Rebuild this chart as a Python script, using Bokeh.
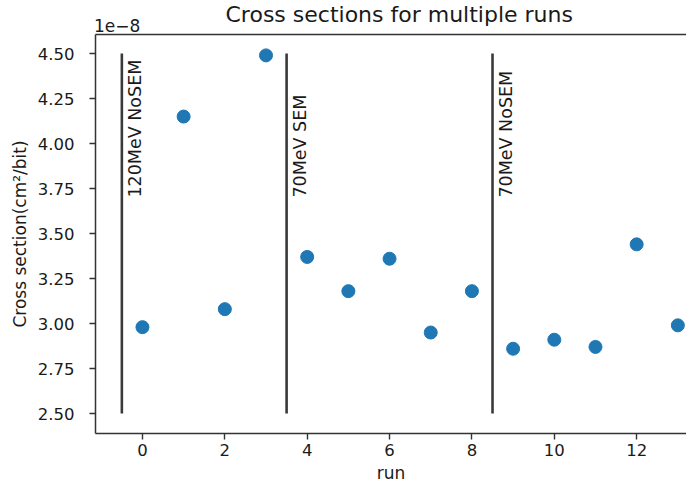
import numpy as np
from bokeh.plotting import figure
from bokeh.models import Range1d, FixedTicker, CustomJSTickFormatter, LinearAxis
from bokeh.embed import file_html
from bokeh.resources import INLINE
from bokeh.core.properties import value

# ---- data ----
runs = list(range(14))
cross_section = [2.98e-8, 4.15e-8, 3.08e-8, 4.49e-8, 3.37e-8, 3.18e-8, 3.36e-8,
                 2.95e-8, 3.18e-8, 2.86e-8, 2.91e-8, 2.87e-8, 3.44e-8, 2.99e-8]
boundaries = [-0.5, 3.5, 8.5]
boundary_labels = ["120MeV NoSEM", "70MeV SEM", "70MeV NoSEM"]
line_bottom = [2.5e-8, 2.5e-8, 2.5e-8]
line_top = [4.5e-8, 4.5e-8, 4.5e-8]
label_y = [3.7e-8, 3.7e-8, 3.7e-8]
x_ticks = [0, 2, 4, 6, 8, 10, 12]
y_ticks = [2.5e-8, 2.75e-8, 3.0e-8, 3.25e-8, 3.5e-8, 3.75e-8, 4.0e-8, 4.25e-8, 4.5e-8]

FONT = "DejaVu Sans"
TXT = "#1a1a1a"
AX = "#333333"

p = figure(width=686, height=485, output_backend="svg", toolbar_location=None,
           x_range=Range1d(-1.14, 13.21), y_range=Range1d(2.389e-8, 4.606e-8),
           min_border_left=95, min_border_right=0, min_border_top=34, min_border_bottom=52,
           title="Cross sections for multiple runs")
p.outline_line_color = None
p.grid.visible = False
p.background_fill_color = "white"
p.border_fill_color = "white"

p.title.align = "left"
p.title.text_font = FONT
p.title.text_font_size = "22px"
p.title.text_font_style = "normal"
p.title.text_color = TXT
p.title.standoff = -29
p.title.offset = 130

for ax in (p.xaxis[0], p.yaxis[0]):
    ax.axis_line_color = AX
    ax.axis_line_width = 1.5
    ax.major_tick_line_color = AX
    ax.major_tick_line_width = 1.4
    ax.major_tick_out = 6
    ax.major_tick_in = 0
    ax.minor_tick_out = 0
    ax.minor_tick_in = 0
    ax.major_label_text_font = FONT
    ax.major_label_text_font_size = "16.5px"
    ax.major_label_text_color = TXT
    ax.axis_label_text_font = FONT
    ax.axis_label_text_font_size = "17px"
    ax.axis_label_text_font_style = "normal"
    ax.axis_label_text_color = TXT

p.xaxis.ticker = FixedTicker(ticks=x_ticks)
p.yaxis.ticker = FixedTicker(ticks=y_ticks)
p.yaxis.formatter = CustomJSTickFormatter(code="return (tick*1e8).toFixed(2);")
p.xaxis.axis_label = "run"
p.yaxis.axis_label = "Cross section(cm²/bit)"
p.xaxis.major_label_standoff = 4
p.yaxis.major_label_standoff = 15
p.xaxis.axis_label_standoff = 4
p.yaxis.axis_label_standoff = 5

top = LinearAxis(ticker=FixedTicker(ticks=[]), axis_line_color=AX, axis_line_width=1.5,
                 major_tick_out=0, minor_tick_out=0, major_label_text_font_size="0px",
                 axis_label="\u00a0" * 8 + "1e\u22128", axis_label_align="start",
                 axis_label_standoff=-1,
                 axis_label_text_font=FONT, axis_label_text_font_size="17px",
                 axis_label_text_font_style="normal", axis_label_text_color=TXT)
p.add_layout(top, "above")

p.scatter(runs, cross_section, size=13, color="#1f77b4", line_color="#1f77b4")
p.segment(x0=boundaries, y0=line_bottom, x1=boundaries, y1=line_top,
          line_width=2.6, line_color="#3a3a3a")
p.text(x=boundaries, y=label_y, text=boundary_labels, angle=np.pi / 2,
       text_align="left", text_baseline="top", x_offset=3,
       text_font=value(FONT), text_font_size="17.5px", text_color=TXT)

open("out.html", "w").write(file_html(p, INLINE))
